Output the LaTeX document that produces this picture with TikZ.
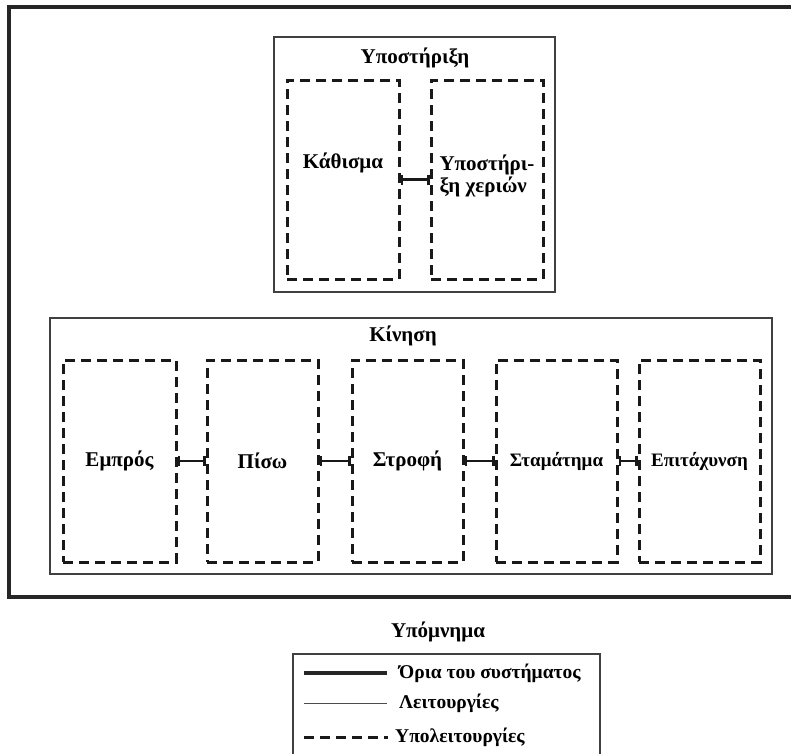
\documentclass[tikz,border=0pt]{standalone}
\usepackage{fontspec}
\setmainfont{Liberation Serif}
\usetikzlibrary{arrows.meta}

\tikzset{
	txt/.style={font=\fontsize{21}{22}\selectfont\bfseries, inner sep=0pt},
	smalltxt/.style={font=\fontsize{19}{20}\selectfont\bfseries, inner sep=0pt},
	legtxt/.style={font=\fontsize{19.5}{21}\selectfont\bfseries, inner sep=0pt, anchor=west},
	groupbox/.style={draw=black!75, line width=1.2pt, inner sep=0pt},
	subbox/.style={draw=black!90, line width=3pt, dash pattern=on 10pt off 6pt,
		inner sep=0pt, minimum height=202pt},
	link/.style={draw=black!90, line width=2.5pt, {Bar[width=10pt,line width=2.5pt]}-{Bar[width=10pt,line width=2.5pt]}},
	border/.style={draw=black!85, line width=4pt},
}

\begin{document}
\begin{tikzpicture}[x=1pt,y=-1pt]
		\useasboundingbox (0,0) rectangle (791,753);
		\clip (0,0) rectangle (791,753);
		% system border
		\draw[border] (9,7) rectangle (810,597);

		% support
		\node[groupbox, minimum width=281pt, minimum height=255pt] (supp) at (414.5,164.5) {};
		\node[txt] (suppT) at (415,58) {Υποστήριξη};
		\node[subbox, minimum width=112pt, minimum height=199pt] (seat) at (343,179.5) {};
		\node[subbox, minimum width=112pt, minimum height=199pt] (hands) at (487,179.5) {};
		\node[txt] (seatT) at (343,163) {Κάθισμα};
		\node[txt, align=left] (handsT) at (487,176) {Υποστήρι-\\ξη χεριών};
		\draw[link] (seat.east) -- (hands.west);

		% movement
		\node[groupbox, minimum width=722pt, minimum height=256pt] (move) at (411,446) {};
		\node[txt] (moveT) at (403,336) {Κίνηση};
		\node[subbox, minimum width=113pt] (fwd) at (119.5,461) {};
		\node[subbox, minimum width=111pt] (back) at (262.5,461) {};
		\node[subbox, minimum width=111pt] (turn) at (407.5,461) {};
		\node[subbox, minimum width=121pt] (stop) at (556.5,461) {};
		\node[subbox, minimum width=121pt] (accel) at (699.5,461) {};
		\node[txt] at (fwd) {Εμπρός};
		\node[txt] at (back) {Πίσω};
		\node[txt] at (turn) {Στροφή};
		\node[smalltxt] at (stop) {Σταμάτημα};
		\node[smalltxt] at (accel) {Επιτάχυνση};
		\foreach \a/\b in {fwd/back,back/turn,turn/stop,stop/accel}
			\draw[link] (\a.east) -- (\b.west);

		% legend
		\node[txt] (legT) at (438,632) {Υπόμνημα};
		\draw[groupbox] (293,654) rectangle (600,790);
		\coordinate (l1) at (304,673);
		\coordinate (l2) at (304,703);
		\coordinate (l3) at (304,737);
		\draw[border, line width=3.5pt] (l1) -- ++(83,0);
		\draw[draw=black!70, line width=1pt] (l2) -- ++(83,0);
		\draw[draw=black!90, line width=3pt, dash pattern=on 10pt off 6pt] (l3) -- ++(84,0);
		\node[legtxt] at (399,673) {Όρια του συστήματος};
		\node[legtxt] at (399,703) {Λειτουργίες};
		\node[legtxt] at (395,737) {Υπολειτουργίες};
\end{tikzpicture}
\end{document}
